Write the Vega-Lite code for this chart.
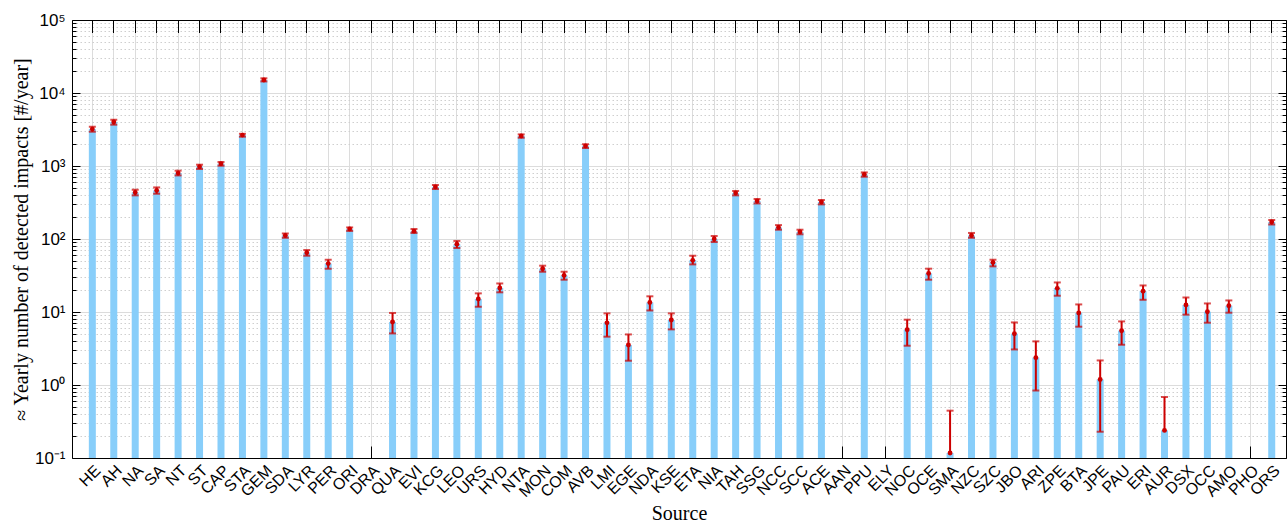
{
  "$schema": "https://vega.github.io/schema/vega-lite/v6.json",
  "width": 1214,
  "height": 438,
  "autosize": {"type": "none"},
  "padding": {"left": 72, "top": 20, "right": 1, "bottom": 65},
  "background": "white",
  "config": {
    "view": {"stroke": null},
    "axis": {"domainColor": "black", "tickColor": "black", "labelColor": "black", "labelFont": "Liberation Sans", "titleFont": "Liberation Serif", "titleFontWeight": "normal", "titleColor": "black", "gridColor": "#dcdcdc", "gridWidth": 1, "domainWidth": 1, "tickWidth": 1}
  },
  "data": {
    "values": [
      {"source": "HE", "value": 3200, "lo": 2950, "hi": 3450},
      {"source": "AH", "value": 4000, "lo": 3680, "hi": 4300},
      {"source": "NA", "value": 435, "lo": 396, "hi": 473},
      {"source": "SA", "value": 463, "lo": 417, "hi": 509},
      {"source": "NT", "value": 800, "lo": 743, "hi": 862},
      {"source": "ST", "value": 975, "lo": 910, "hi": 1042},
      {"source": "CAP", "value": 1075, "lo": 1009, "hi": 1135},
      {"source": "STA", "value": 2650, "lo": 2520, "hi": 2760},
      {"source": "GEM", "value": 15100, "lo": 14400, "hi": 15900},
      {"source": "SDA", "value": 112, "lo": 104, "hi": 119},
      {"source": "LYR", "value": 65, "lo": 59, "hi": 70.6},
      {"source": "PER", "value": 46, "lo": 39.2, "hi": 52},
      {"source": "ORI", "value": 137, "lo": 129, "hi": 144},
      {"source": "DRA", "value": null, "lo": null, "hi": null},
      {"source": "QUA", "value": 7.3, "lo": 5.09, "hi": 9.7},
      {"source": "EVI", "value": 128, "lo": 121, "hi": 137},
      {"source": "KCG", "value": 515, "lo": 484, "hi": 549},
      {"source": "LEO", "value": 85, "lo": 75.3, "hi": 94},
      {"source": "URS", "value": 15.1, "lo": 11.8, "hi": 18},
      {"source": "HYD", "value": 21.3, "lo": 18.6, "hi": 24.6},
      {"source": "NTA", "value": 2580, "lo": 2440, "hi": 2710},
      {"source": "MON", "value": 39.2, "lo": 35.6, "hi": 43.1},
      {"source": "COM", "value": 31.7, "lo": 27.7, "hi": 35.6},
      {"source": "AVB", "value": 1880, "lo": 1765, "hi": 1980},
      {"source": "LMI", "value": 7.1, "lo": 4.59, "hi": 9.57},
      {"source": "EGE", "value": 3.53, "lo": 2.15, "hi": 4.93},
      {"source": "NDA", "value": 13.5, "lo": 10.5, "hi": 16.4},
      {"source": "KSE", "value": 7.76, "lo": 5.78, "hi": 9.57},
      {"source": "ETA", "value": 51, "lo": 44.9, "hi": 59},
      {"source": "NIA", "value": 100, "lo": 91, "hi": 110},
      {"source": "TAH", "value": 427, "lo": 396, "hi": 455},
      {"source": "SSG", "value": 332, "lo": 307, "hi": 353},
      {"source": "NCC", "value": 144, "lo": 134, "hi": 155},
      {"source": "SCC", "value": 125, "lo": 116, "hi": 134},
      {"source": "ACE", "value": 321, "lo": 298, "hi": 342},
      {"source": "AAN", "value": null, "lo": null, "hi": null},
      {"source": "PPU", "value": 767, "lo": 713, "hi": 817},
      {"source": "ELY", "value": null, "lo": null, "hi": null},
      {"source": "NOC", "value": 5.72, "lo": 3.45, "hi": 7.85},
      {"source": "OCE", "value": 33.8, "lo": 27.7, "hi": 39.2},
      {"source": "SMA", "value": 0.117, "lo": null, "hi": 0.445},
      {"source": "NZC", "value": 112, "lo": 104, "hi": 121},
      {"source": "SZC", "value": 47.8, "lo": 42.2, "hi": 52},
      {"source": "JBO", "value": 5.04, "lo": 3.07, "hi": 7.2},
      {"source": "ARI", "value": 2.37, "lo": 0.84, "hi": 3.96},
      {"source": "ZPE", "value": 21.1, "lo": 16.7, "hi": 25.4},
      {"source": "BTA", "value": 9.69, "lo": 6.29, "hi": 12.7},
      {"source": "JPE", "value": 1.19, "lo": 0.229, "hi": 2.17},
      {"source": "PAU", "value": 5.54, "lo": 3.56, "hi": 7.43},
      {"source": "ERI", "value": 19.2, "lo": 14.7, "hi": 23.1},
      {"source": "AUR", "value": 0.239, "lo": null, "hi": 0.685},
      {"source": "DSX", "value": 12.5, "lo": 9.19, "hi": 15.8},
      {"source": "OCC", "value": 10.1, "lo": 7.13, "hi": 13.1},
      {"source": "AMO", "value": 12.2, "lo": 9.78, "hi": 14.4},
      {"source": "PHO", "value": null, "lo": null, "hi": null},
      {"source": "ORS", "value": 171, "lo": 158, "hi": 182}
    ]
  },
  "resolve": {"axis": {"x": "independent", "y": "independent"}},
  "layer": [
    {
      "mark": {"type": "bar", "width": 7, "color": "#88CEFA", "clip": true},
      "encoding": {
        "x": {
          "field": "source", "type": "nominal", "sort": null,
          "scale": {"domain": ["HE","AH","NA","SA","NT","ST","CAP","STA","GEM","SDA","LYR","PER","ORI","DRA","QUA","EVI","KCG","LEO","URS","HYD","NTA","MON","COM","AVB","LMI","EGE","NDA","KSE","ETA","NIA","TAH","SSG","NCC","SCC","ACE","AAN","PPU","ELY","NOC","OCE","SMA","NZC","SZC","JBO","ARI","ZPE","BTA","JPE","PAU","ERI","AUR","DSX","OCC","AMO","PHO","ORS"], "paddingInner": 0, "paddingOuter": 0.307, "align": 0.73},
          "axis": {"orient": "bottom", "title": "Source", "titleFontSize": 20, "titleBaseline": "alphabetic", "titleY": 61, "labelAngle": -45, "labelAlign": "right", "labelBaseline": "top", "labelFontSize": 16, "labelPadding": 16, "tickSize": -12, "grid": true, "domain": true}
        },
        "y": {
          "field": "value", "type": "quantitative", "stack": null,
          "scale": {"type": "log", "domain": [0.1, 100000], "nice": false},
          "axis": {"orient": "left", "values": [0.1, 1, 10, 100, 1000, 10000, 100000], "labelExpr": "datum.value > 99999 ? '10⁵' : datum.value > 9999 ? '10⁴' : datum.value > 999 ? '10³' : datum.value > 99 ? '10²' : datum.value > 9 ? '10¹' : datum.value > 0.9 ? '10⁰' : '10⁻¹'", "labelFontSize": 17, "labelPadding": 15, "tickSize": -8, "grid": true, "title": "≈ Yearly number of detected impacts [#/year]", "titleFontSize": 20, "titleAngle": 270, "titleBaseline": "alphabetic", "titleX": -45, "titleY": 219, "titleAlign": "center"}
        }
      }
    },
    {
      "mark": {"type": "rule", "color": "#CC0000", "strokeWidth": 2, "clip": true},
      "encoding": {
        "x": {"field": "source", "type": "nominal", "sort": null, "axis": {"orient": "top", "labels": false, "tickSize": -12.5, "grid": false, "domain": true, "title": null}},
        "y": {"field": "hi", "type": "quantitative", "axis": {"orient": "left", "values": [0.2,0.3,0.4,0.5,0.6,0.7,0.8,0.9,2,3,4,5,6,7,8,9,20,30,40,50,60,70,80,90,200,300,400,500,600,700,800,900,2000,3000,4000,5000,6000,7000,8000,9000,20000,30000,40000,50000,60000,70000,80000,90000], "labels": false, "tickSize": -4, "grid": true, "gridDash": [1.5, 2.5], "gridColor": "#cfcfcf", "domain": false, "title": null}},
        "y2": {"field": "value"}
      }
    },
    {
      "transform": [{"filter": "isValid(datum.lo)"}],
      "mark": {"type": "rule", "color": "#CC0000", "strokeWidth": 2, "clip": true},
      "encoding": {
        "x": {"field": "source", "type": "nominal", "sort": null, "axis": null},
        "y": {"field": "lo", "type": "quantitative", "axis": null},
        "y2": {"field": "value"}
      }
    },
    {
      "transform": [{"filter": "isValid(datum.lo)"}],
      "mark": {"type": "tick", "color": "#CC0000", "size": 7, "thickness": 2, "clip": true},
      "encoding": {
        "x": {"field": "source", "type": "nominal", "sort": null, "axis": null},
        "y": {"field": "lo", "type": "quantitative", "axis": {"orient": "right", "values": [0.1, 1, 10, 100, 1000, 10000, 100000], "labels": false, "tickSize": -8, "grid": false, "domain": true, "title": null}}
      }
    },
    {
      "mark": {"type": "tick", "color": "#CC0000", "size": 7, "thickness": 2, "clip": true},
      "encoding": {
        "x": {"field": "source", "type": "nominal", "sort": null, "axis": null},
        "y": {"field": "hi", "type": "quantitative", "axis": {"orient": "right", "values": [0.2,0.3,0.4,0.5,0.6,0.7,0.8,0.9,2,3,4,5,6,7,8,9,20,30,40,50,60,70,80,90,200,300,400,500,600,700,800,900,2000,3000,4000,5000,6000,7000,8000,9000,20000,30000,40000,50000,60000,70000,80000,90000], "labels": false, "tickSize": -4, "grid": false, "domain": false, "title": null}}
      }
    },
    {
      "mark": {"type": "point", "filled": true, "color": "#CC0000", "size": 24, "opacity": 1, "clip": true},
      "encoding": {
        "x": {"field": "source", "type": "nominal", "sort": null, "axis": null},
        "y": {"field": "value", "type": "quantitative", "axis": null}
      }
    }
  ]
}
